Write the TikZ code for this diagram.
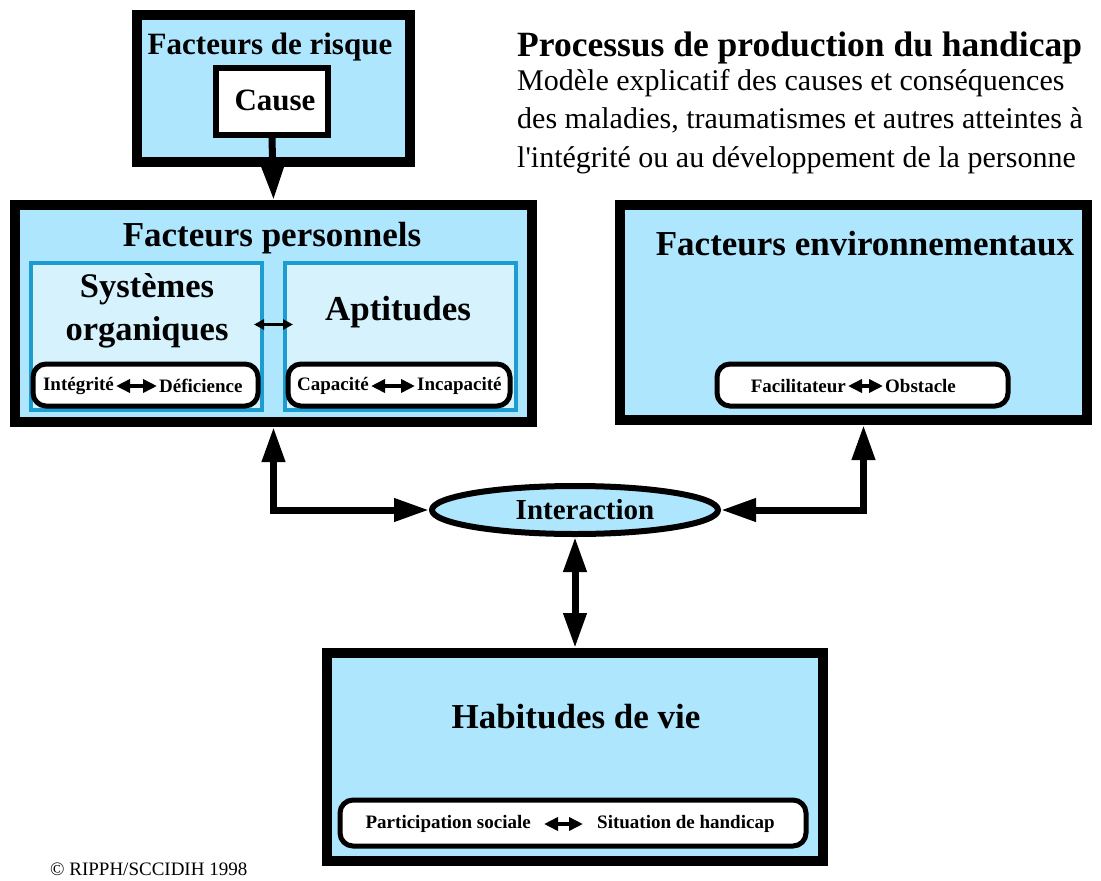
\documentclass[tikz,border=0pt]{standalone}
\usepackage{fontspec}
\setmainfont{Liberation Serif}
\usetikzlibrary{arrows.meta,shapes,positioning,calc}

\definecolor{outerblue}{HTML}{AEE6FD}
\definecolor{innerblue}{HTML}{D6F3FD}
\definecolor{edgeblue}{HTML}{1C9CD0}

\tikzset{
  bigbox/.style={draw=black,line width=10pt,fill=outerblue,inner sep=0pt},
  subbox/.style={draw=edgeblue,line width=4pt,fill=innerblue,inner sep=0pt},
  pill/.style={draw=black,line width=5pt,fill=white,rounded corners=13pt,inner sep=0pt},
  bigtxt/.style={font=\fontsize{35}{40}\selectfont\bfseries,inner sep=0pt,align=center},
  ptxt/.style={font=\fontsize{19}{21}\selectfont\bfseries,inner sep=0pt},
  subtxt/.style={anchor=base west,inner sep=0pt,font=\fontsize{30}{32}\selectfont},
  bigarr/.style={line width=7pt,-{Triangle[length=35pt,width=22pt]}},
  dblarr/.style={line width=7pt,{Triangle[length=35pt,width=22pt]}-{Triangle[length=35pt,width=22pt]}},
  smallarr/.style={line width=2.5pt,{Triangle[length=10pt,width=10pt]}-{Triangle[length=10pt,width=10pt]}},
  pillarr/.style={line width=3.5pt,shorten <=2pt,shorten >=2pt,{Triangle[length=14pt,width=13pt]}-{Triangle[length=14pt,width=13pt]}}
}

\begin{document}
\begin{tikzpicture}[x=1pt,y=-1pt]
  \useasboundingbox (0,0) rectangle (1101,881);

  % boites
  \node[bigbox,minimum width=273pt,minimum height=147pt] (risk) at (273.5,88.5) {};
  \node[draw,line width=6pt,fill=white,minimum width=112pt,minimum height=67pt] (cause) at (272,101.5) {};
  \node[bigbox,minimum width=517pt,minimum height=217pt] (pers) at (273.5,313.5) {};
  \node[subbox,minimum width=231pt,minimum height=147pt] (sys) at (146.5,336.5) {};
  \node[subbox,minimum width=231pt,minimum height=147pt] (apt) at (400.5,336.5) {};
  \node[bigbox,minimum width=467pt,minimum height=215pt] (env) at (853.5,312.5) {};
  \node[bigbox,minimum width=496pt,minimum height=208pt] (habit) at (575,757) {};
  \node[draw,line width=6pt,fill=outerblue,ellipse,minimum width=286pt,minimum height=48pt,inner sep=0pt] (inter) at (575,510) {};

  % titres
  \node[bigtxt,font=\fontsize{31}{34}\selectfont\bfseries] (risktitle) at (270,47) {Facteurs de risque};
  \node[bigtxt,font=\fontsize{31}{34}\selectfont\bfseries] (causetitle) at (275,100) {Cause};
  \node[bigtxt] (perstitle) at (272,238) {Facteurs personnels};
  \node[bigtxt,font=\fontsize{34.5}{43}\selectfont\bfseries] (systitle) at (147,311) {Systèmes\\organiques};
  \node[bigtxt] (apttitle) at (398,312) {Aptitudes};
  \node[bigtxt] (envtitle) at (865,244) {Facteurs environnementaux};
  \node[bigtxt,font=\fontsize{29}{32}\selectfont\bfseries] (intertitle) at (585,510) {Interaction};
  \node[bigtxt] (habittitle) at (576,717) {Habitudes de vie};

  % pastilles
  \node[pill,minimum width=225pt,minimum height=42pt] (pillsys) at (145.5,385) {};
  \node[ptxt,anchor=east] (integ) at (114,386) {Intégrité};
  \node[ptxt,anchor=west] (defic) at (159,386) {Déficience};
  \draw[pillarr] (integ) -- (defic);

  \node[pill,minimum width=222pt,minimum height=42pt] (pillapt) at (399,385) {};
  \node[ptxt,anchor=east] (capac) at (369,386) {Capacité};
  \node[ptxt,anchor=west] (incap) at (417,386) {Incapacité};
  \draw[pillarr] (capac) -- (incap);

  \node[pill,minimum width=291pt,minimum height=42pt] (pillenv) at (862.5,385) {};
  \node[ptxt,anchor=east] (facil) at (846,386) {Facilitateur};
  \node[ptxt,anchor=west] (obst) at (885,386) {Obstacle};
  \draw[pillarr] (facil) -- (obst);

  \node[pill,minimum width=466pt,minimum height=46pt] (pillhab) at (573,823) {};
  \node[ptxt,anchor=east] (partic) at (531,824) {Participation sociale};
  \node[ptxt,anchor=west] (situ) at (597,824) {Situation de handicap};
  \draw[pillarr,shorten <=13pt,shorten >=14pt] (partic) -- (situ);

  % liens
  \draw[bigarr] (cause.south) -- (risk.south |- pers.north);
  \draw[smallarr] ([shift={(-10pt,12pt)}]sys.east) -- ([shift={(10pt,12pt)}]apt.west);
  \draw[dblarr] (pers.south) |- (inter.west);
  \draw[dblarr] ([xshift=10pt]env.south) |- (inter.east);
  \draw[dblarr] (inter.south) -- (habit.north);

  % texte en haut a droite
  \node[anchor=base west,inner sep=0pt,font=\fontsize{35.5}{38}\selectfont\bfseries] (titre) at (517,56) {Processus de production du handicap};
  \node[subtxt] (ligne1) at (517,90) {Modèle explicatif des causes et conséquences};
  \node[subtxt] (ligne2) at (517,128.5) {des maladies, traumatismes et autres atteintes à};
  \node[subtxt] (ligne3) at (517,167) {l\textquotesingle intégrité ou au développement de la personne};

  \node[anchor=west,inner sep=0pt,font=\fontsize{19}{21}\selectfont] (copy) at (50,869) {© RIPPH/SCCIDIH 1998};
\end{tikzpicture}
\end{document}
